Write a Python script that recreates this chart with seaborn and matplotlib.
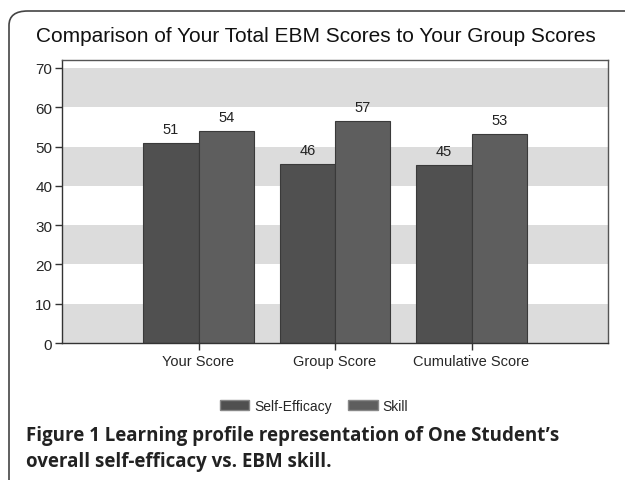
import matplotlib
matplotlib.use("Agg")
from matplotlib import pyplot as plt
from matplotlib.patches import FancyBboxPatch, Patch
import pandas as pd
import seaborn as sns

# data
categories = ["Your Score", "Group Score", "Cumulative Score"]
series = ["Self-Efficacy", "Skill"]
self_efficacy = [51.0, 45.6, 45.3]
skill = [54.0, 56.6, 53.1]
y_ticks = [0, 10, 20, 30, 40, 50, 60, 70]

title = "Comparison of Your Total EBM Scores to Your Group Scores"
caption_1 = "Learning profile representation of One Student\u2019s"
caption_2 = "overall self-efficacy vs. EBM skill."

df = pd.DataFrame({
    "category": categories * 2,
    "series": [series[0]] * 3 + [series[1]] * 3,
    "value": self_efficacy + skill,
})

sns.set_style("white")
plt.rcParams["font.family"] = ["Liberation Sans", "DejaVu Sans"]

colors = {"Self-Efficacy": "#505050", "Skill": "#5e5e5e"}

fig = plt.figure(figsize=(6.25, 4.81), dpi=100)

# rounded frame around the whole figure
frame = FancyBboxPatch((9 / 625, -0.05), 1.1, 1 - 12 / 481 + 0.05,
                       boxstyle="round,pad=0,rounding_size=0.03",
                       transform=fig.transFigure, fill=False,
                       edgecolor="#444444", linewidth=1.2)
fig.patches.append(frame)

ax = fig.add_axes([62 / 625, 1 - 344 / 481, (608 - 62) / 625, (344 - 60.7) / 481])

# alternating grey bands
for lo in y_ticks[::2]:
    ax.axhspan(lo, lo + 10, color="#dcdcdc", zorder=0, lw=0)

sns.barplot(data=df, x="category", y="value", hue="series", order=categories,
            hue_order=series, palette=colors, width=0.81, saturation=1,
            edgecolor="#3a3a3a", linewidth=0.8, ax=ax, legend=False, zorder=2)

for cont in ax.containers:
    ax.bar_label(cont, fmt="%.0f", padding=5, fontsize=10.5, color="#222222")

ax.set_xlim(-1, 3)
ax.set_ylim(0, 72.1)
ax.set_yticks(y_ticks)
ax.set_xlabel("")
ax.set_ylabel("")
ax.tick_params(axis="y", labelsize=11, length=5, width=1, color="#333333", pad=2, left=True)
ax.tick_params(axis="x", labelsize=10.5, length=5, width=1, color="#333333", pad=3, bottom=True)
for s in ax.spines.values():
    s.set_color("#555555")
    s.set_linewidth(1)
ax.spines["left"].set_color("#333333")
ax.spines["bottom"].set_color("#333333")

fig.text(0.505, 1 - 37 / 481, title, ha="center", va="center", fontsize=15, color="#111111")

handles = [Patch(facecolor=colors[s], edgecolor="#888888", label=s) for s in series]
fig.legend(handles=handles, loc="center", bbox_to_anchor=(314 / 625, 1 - 407 / 481), ncol=2,
           frameon=False, fontsize=10, handlelength=2.1, handleheight=0.65,
           columnspacing=1.2, handletextpad=0.36)

cap_font = ["Open Sans", "DejaVu Sans"]
fig.text(26 / 625, 1 - 441 / 481, "Figure 1 " + caption_1, ha="left", va="baseline",
         fontsize=13.5, fontweight="bold", family=cap_font, color="#222222")
fig.text(26 / 625, 1 - 467 / 481, caption_2, ha="left", va="baseline",
         fontsize=13.5, fontweight="bold", family=cap_font, color="#222222")

fig.savefig("out.png", dpi=100)
